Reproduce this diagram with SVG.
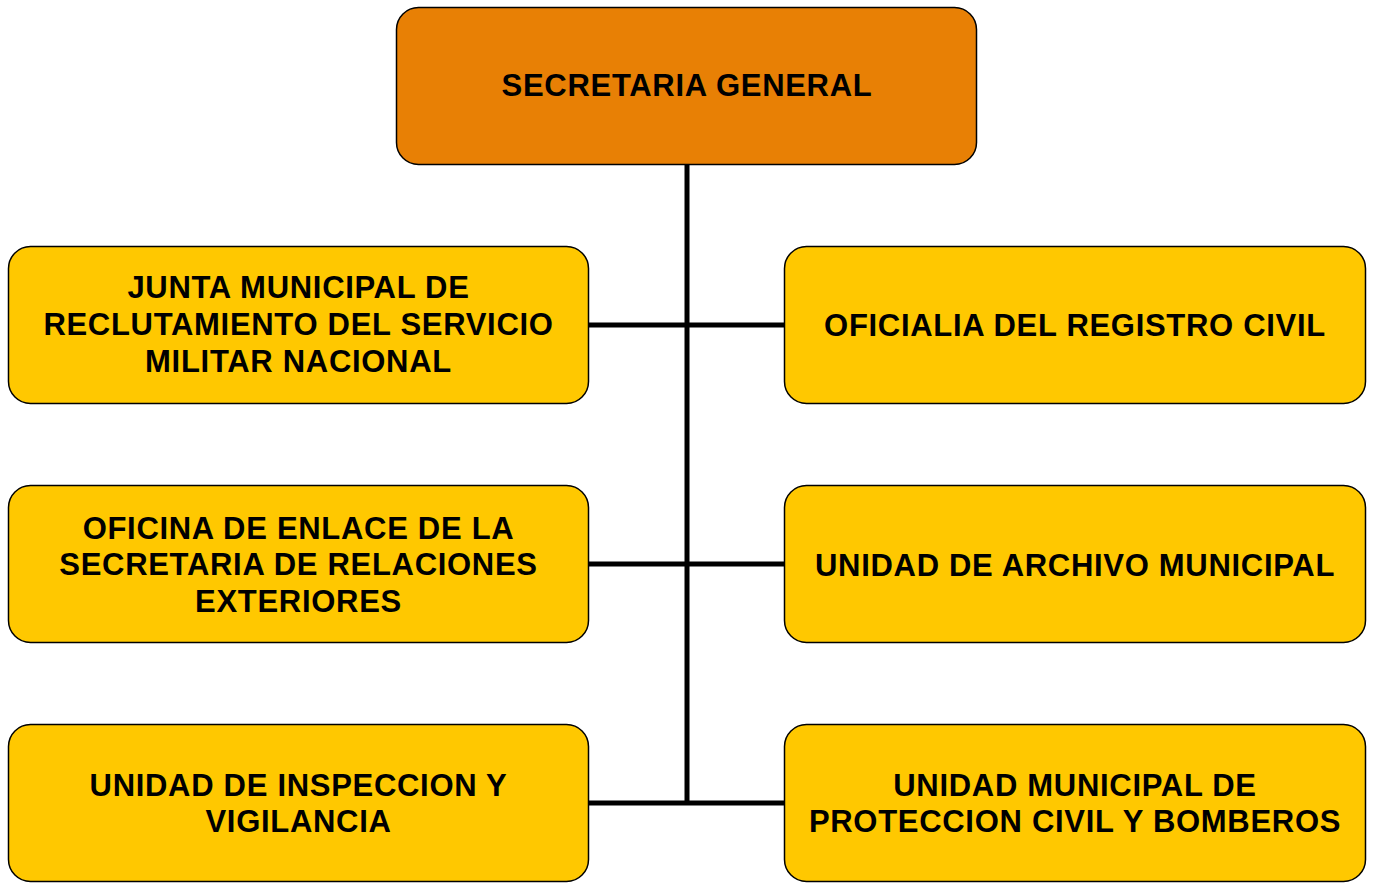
<svg xmlns="http://www.w3.org/2000/svg" width="1373" height="883" viewBox="0 0 1373 883">
<style>
.box{stroke:#000;stroke-width:1.5}
.top{fill:#E88005}
.sub{fill:#FFC800}
.t{font-family:"Liberation Sans",Arial,sans-serif;font-weight:bold;font-size:31px;letter-spacing:0.7px;fill:#000;text-anchor:middle}
.c{stroke:#000;stroke-width:5;fill:none}
</style>
<rect width="1373" height="883" fill="#fff"/>
<g id="connectors">
<line class="c" x1="687" y1="165" x2="687" y2="805"/>
<line class="c" x1="589" y1="325" x2="784" y2="325"/>
<line class="c" x1="589" y1="564" x2="784" y2="564"/>
<line class="c" x1="589" y1="803" x2="784" y2="803"/>
</g>
<g id="n0"><rect class="box top" x="396.5" y="7.5" width="580" height="157" rx="22"/>
<text class="t" x="687" y="95.5">SECRETARIA GENERAL</text></g>
<g id="n1"><rect class="box sub" x="8.5" y="246.5" width="580" height="157" rx="22"/>
<text class="t" x="298.5" y="297.5">JUNTA MUNICIPAL DE</text>
<text class="t" x="298.5" y="335">RECLUTAMIENTO DEL SERVICIO</text>
<text class="t" x="298.5" y="371.5">MILITAR NACIONAL</text></g>
<g id="n2"><rect class="box sub" x="784.5" y="246.5" width="581" height="157" rx="22"/>
<text class="t" x="1075" y="336">OFICIALIA DEL REGISTRO CIVIL</text></g>
<g id="n3"><rect class="box sub" x="8.5" y="485.5" width="580" height="157" rx="22"/>
<text class="t" x="298.5" y="538.5">OFICINA DE ENLACE DE LA</text>
<text class="t" x="298.5" y="575">SECRETARIA DE RELACIONES</text>
<text class="t" x="298.5" y="611.5">EXTERIORES</text></g>
<g id="n4"><rect class="box sub" x="784.5" y="485.5" width="581" height="157" rx="22"/>
<text class="t" x="1075" y="576">UNIDAD DE ARCHIVO MUNICIPAL</text></g>
<g id="n5"><rect class="box sub" x="8.5" y="724.5" width="580" height="157" rx="22"/>
<text class="t" x="298.5" y="795.5">UNIDAD DE INSPECCION Y</text>
<text class="t" x="298.5" y="831.5">VIGILANCIA</text></g>
<g id="n6"><rect class="box sub" x="784.5" y="724.5" width="581" height="157" rx="22"/>
<text class="t" x="1075" y="795.5">UNIDAD MUNICIPAL DE</text>
<text class="t" x="1075" y="831.5">PROTECCION CIVIL Y BOMBEROS</text></g>
</svg>
